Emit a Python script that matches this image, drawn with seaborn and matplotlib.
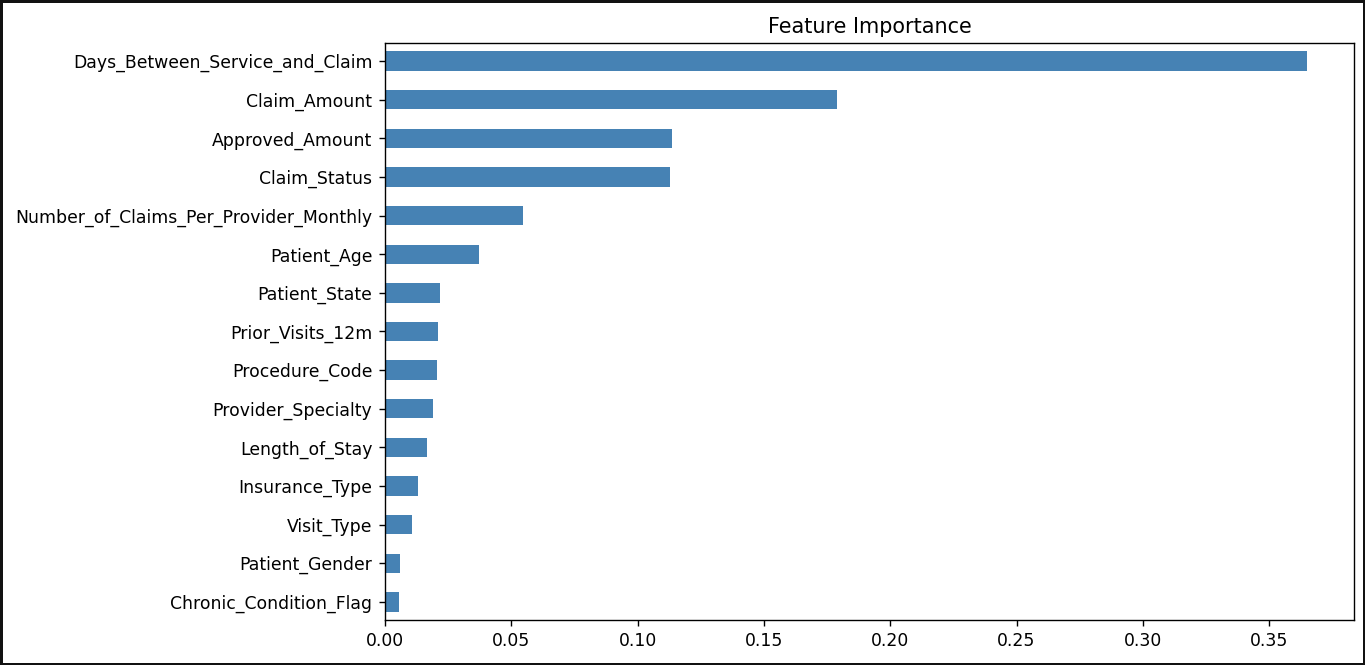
import matplotlib
matplotlib.use("Agg")
import matplotlib.pyplot as plt
import seaborn as sns
import pandas as pd

# feature importances, largest first (as shown top to bottom)
features = [
    "Days_Between_Service_and_Claim",
    "Claim_Amount",
    "Approved_Amount",
    "Claim_Status",
    "Number_of_Claims_Per_Provider_Monthly",
    "Patient_Age",
    "Patient_State",
    "Prior_Visits_12m",
    "Procedure_Code",
    "Provider_Specialty",
    "Length_of_Stay",
    "Insurance_Type",
    "Visit_Type",
    "Patient_Gender",
    "Chronic_Condition_Flag",
]
importance = [
    0.3650, 0.1791, 0.1137, 0.1127, 0.0548, 0.0373, 0.0217, 0.0211,
    0.0207, 0.0191, 0.0168, 0.0132, 0.0107, 0.0058, 0.0057,
]

df = pd.DataFrame({"feature": features, "importance": importance})

# screenshot was taken at ~1.25x scale
s = 1.245
plt.rcParams.update({
    "xtick.labelsize": 10 * s, "ytick.labelsize": 10 * s,
    "xtick.major.size": 3.5 * s, "ytick.major.size": 3.5 * s,
    "xtick.major.pad": 3.5 * s, "ytick.major.pad": 3.8 * s,
    "xtick.major.width": 0.8 * s, "ytick.major.width": 0.8 * s,
    "axes.linewidth": 0.8 * s,
})

fig = plt.figure(figsize=(13.65, 6.65), dpi=100)
ax = fig.add_axes([385 / 1365, 45 / 665, (1354 - 385) / 1365, (620 - 43) / 665])

sns.barplot(data=df, x="importance", y="feature", order=features,
            color="steelblue", width=0.5, saturation=1, ax=ax)

ax.set_xlim(0, 0.3836)
ax.set_ylim(len(features) - 0.53, -0.47)
ax.set_xticks([0.0, 0.05, 0.10, 0.15, 0.20, 0.25, 0.30, 0.35])
ax.set_xticklabels(["0.00", "0.05", "0.10", "0.15", "0.20", "0.25", "0.30", "0.35"])
ax.set_xlabel("")
ax.set_ylabel("")
ax.set_title("Feature Importance", fontsize=12 * s, pad=6 * s)

# dark frame around the whole screenshot
fig.patch.set_edgecolor("#111111")
fig.patch.set_linewidth(3.5)

fig.savefig("out.png", dpi=100, edgecolor=fig.get_edgecolor())
